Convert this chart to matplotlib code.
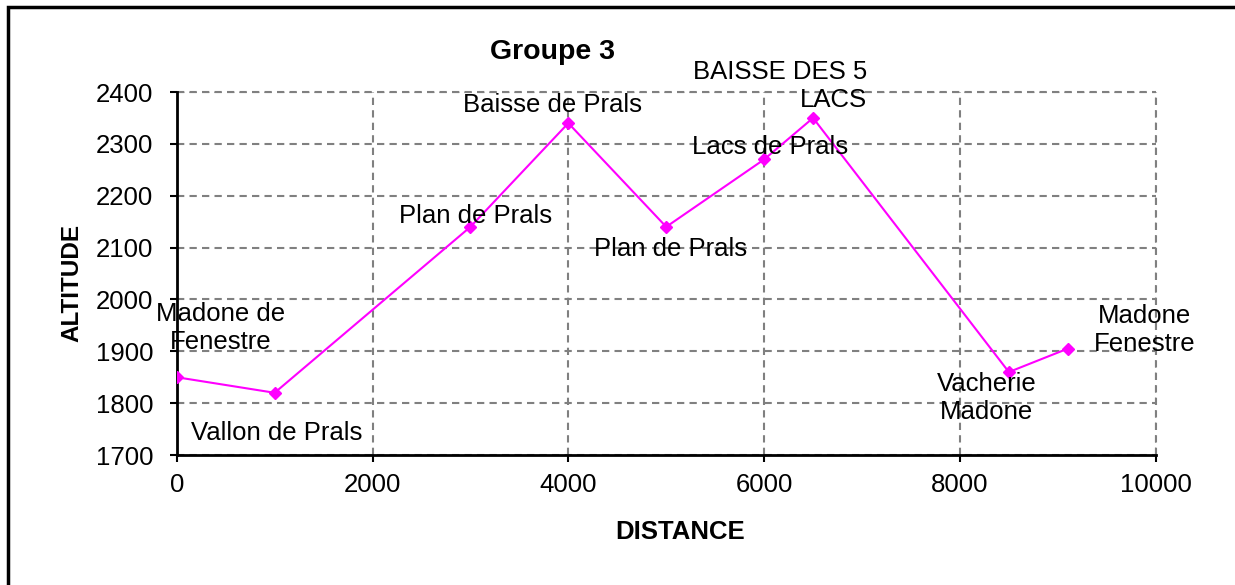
import numpy as np
import matplotlib.pyplot as plt
from matplotlib.patches import Rectangle

plt.rcParams['font.family'] = ['Liberation Sans', 'DejaVu Sans']

# Profil du parcours : distance (m) et altitude (m)
distance = [0, 1000, 3000, 4000, 5000, 6000, 6500, 8500, 9100]
altitude = [1850, 1820, 2140, 2340, 2140, 2270, 2350, 1860, 1905]
noms = ["Madone de\nFenestre", "Vallon de Prals", "Plan de Prals", "Baisse de Prals",
        "Plan de Prals", "Lacs de Prals", "BAISSE DES 5\nLACS", "Vacherie\nMadone",
        "Madone\nFenestre"]

# décalage des étiquettes (pixels) et alignement
decalages = [(44, 49), (2, -40), (5, 11), (-16, 18), (4, -22), (6, 12), (54, 32),
             (-22, -26), (77, 19)]
alignements = ['center'] * 6 + ['right', 'center', 'center']

fig = plt.figure(figsize=(12.35, 5.85), dpi=100)
ax = fig.add_axes([0.1431, 0.2222, 0.7927, 0.6205])

ax.plot(distance, altitude, color='#FF00FF', linewidth=1.5, marker='D',
        markersize=6, markeredgecolor='#FF00FF', zorder=3)

for x, y, nom, (dx, dy), ha in zip(distance, altitude, noms, decalages, alignements):
    ax.annotate(nom, (x, y), xytext=(dx, dy), textcoords='offset pixels',
                ha=ha, va='center', multialignment=ha, fontsize=18.5,
                linespacing=1.2, zorder=4)

ax.set_xlim(0, 10000)
ax.set_ylim(1700, 2400)
ax.set_xticks(np.arange(0, 10001, 2000))
ax.set_yticks(np.arange(1700, 2401, 100))

# grille pointillée grise
ax.grid(True, color='#808080', linestyle=(0, (3.5, 2.5)), linewidth=1.5)
ax.set_axisbelow(True)
for cote in ['top', 'right']:
    ax.spines[cote].set_visible(False)
for cote in ['left', 'bottom']:
    ax.spines[cote].set_linewidth(2)
ax.axhline(2400, color='#808080', linestyle=(0, (3.5, 2.5)), linewidth=1.5, clip_on=False)
ax.axvline(10000, color='#808080', linestyle=(0, (3.5, 2.5)), linewidth=1.5, clip_on=False)

ax.tick_params(axis='both', direction='out', length=5, width=1.5, labelsize=18.5)
ax.tick_params(axis='y', pad=12)
ax.tick_params(axis='x', pad=8)

fig.text(553 / 1235, 1 - 52 / 585, "Groupe 3", ha='center', va='center',
         fontsize=20.5, fontweight='bold')
fig.text(680 / 1235, 1 - 532 / 585, "DISTANCE", ha='center', va='center',
         fontsize=18.5, fontweight='bold')
fig.text(72 / 1235, 1 - 283 / 585, "ALTITUDE", ha='center', va='center',
         fontsize=17.5, fontweight='bold', rotation=90)

# cadre du graphique
fig.add_artist(Rectangle((8 / 1235, -0.5), 2, 1.5 - 7 / 585, transform=fig.transFigure,
                         fill=False, edgecolor='black', linewidth=2.5))

fig.savefig("out.png", dpi=100)
